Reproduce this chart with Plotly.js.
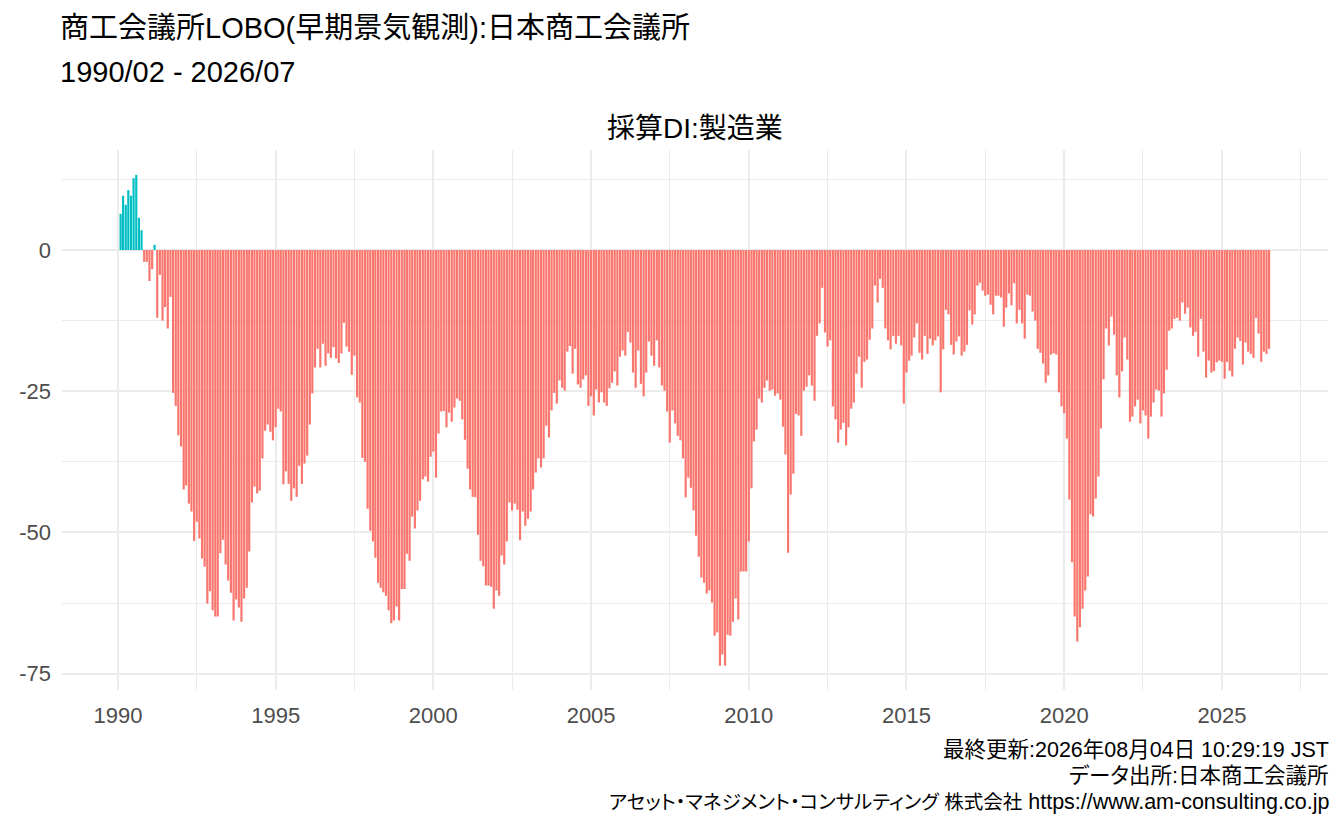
<!DOCTYPE html>
<html lang="ja">
<head>
<meta charset="utf-8">
<script src="https://cdn.plot.ly/plotly-3.0.1.min.js"></script>
<style>
  html, body { margin: 0; padding: 0; background: #ffffff; }
  #lobo-chart { width: 1344px; height: 830px; }
  text { font-feature-settings: "palt" 1; }
</style>
</head>
<body>
<div id="lobo-chart"></div>
<script>
// 商工会議所LOBO 採算DI(製造業) 月次 1990/02 - 2026/07

const firstMonth = "1990-02";

// 1990/02 - 1999/12
const di1990s = [
    6.4, 9.6, 8.0, 10.6, 9.6, 12.7, 13.3, 5.7, 3.5, -2.1, -2.1,
    -5.5, -3.4, 0.9, -12.0, -4.4, -12.5, -10.1, -13.9, -8.3, -25.3, -27.6, -32.8,
    -34.8, -42.4, -41.7, -44.9, -46.3, -51.5, -48.1, -51.1, -54.6, -56.1, -62.6, -60.4,
    -63.8, -64.9, -64.9, -53.7, -51.3, -55.7, -58.5, -60.7, -65.6, -61.9, -63.3, -65.8,
    -61.7, -59.8, -53.4, -44.7, -41.9, -43.1, -42.6, -36.9, -32.0, -30.9, -32.2, -33.7,
    -31.4, -28.1, -28.6, -41.5, -39.2, -41.4, -44.4, -42.2, -43.7, -38.2, -41.4, -37.8,
    -36.4, -30.9, -25.4, -20.8, -17.5, -20.8, -16.6, -20.5, -18.3, -19.1, -17.2, -19.2,
    -20.0, -18.3, -12.9, -17.1, -18.0, -22.1, -18.7, -26.1, -27.0, -36.8, -37.5, -45.8,
    -49.7, -51.6, -54.5, -58.9, -59.8, -60.6, -61.2, -63.8, -66.1, -65.6, -63.1, -65.6,
    -60.0, -60.0, -53.8, -55.0, -47.2, -49.3, -46.1, -44.4, -40.6, -40.1, -41.0, -36.6,
];

// 2000/01 - 2009/12
const di2000s = [
    -35.7, -40.3, -32.5, -28.6, -28.5, -31.4, -28.8, -30.4, -27.9, -26.3, -26.7, -30.0,
    -33.6, -38.7, -42.4, -43.7, -43.8, -50.4, -55.0, -56.0, -59.4, -59.4, -59.6, -63.5,
    -60.3, -61.2, -54.1, -55.7, -51.6, -44.7, -46.1, -44.9, -46.0, -51.4, -46.3, -48.8,
    -47.6, -46.3, -42.4, -39.4, -36.9, -38.5, -36.9, -31.1, -33.2, -28.4, -25.3, -27.2,
    -23.1, -24.4, -24.9, -18.0, -17.0, -21.9, -17.5, -23.8, -24.4, -22.9, -22.2, -27.6,
    -25.9, -29.3, -24.7, -27.0, -25.2, -27.0, -27.6, -24.5, -23.5, -21.5, -24.0, -18.9,
    -17.8, -18.7, -14.5, -16.4, -21.7, -24.4, -17.8, -23.7, -25.9, -21.7, -16.2, -18.7,
    -20.5, -16.0, -20.8, -24.0, -24.9, -28.6, -34.1, -28.4, -30.7, -32.9, -33.7, -36.9,
    -43.8, -40.3, -42.1, -46.1, -50.6, -54.3, -58.0, -58.9, -60.8, -60.3, -62.4, -68.3,
    -67.7, -73.6, -71.6, -73.6, -68.1, -68.3, -65.8, -61.7, -65.4, -56.9, -56.9, -56.9,
];

// 2010/01 - 2019/12
const di2010s = [
    -51.6, -42.2, -33.9, -31.8, -26.3, -27.0, -24.4, -23.1, -24.9, -24.7, -25.8, -25.4,
    -26.5, -31.3, -36.2, -53.6, -43.3, -39.6, -29.0, -29.3, -32.9, -24.9, -24.2, -22.2,
    -24.0, -26.7, -15.2, -13.0, -6.7, -14.6, -17.1, -16.0, -27.7, -30.0, -34.1, -31.8,
    -30.6, -34.6, -31.4, -28.1, -27.0, -21.9, -18.9, -24.4, -19.8, -19.4, -15.9, -13.9,
    -6.3, -9.3, -5.1, -6.7, -13.9, -16.0, -17.6, -15.2, -16.6, -15.2, -16.9, -27.2,
    -21.7, -19.6, -18.7, -15.5, -13.0, -18.2, -19.4, -15.2, -18.4, -15.7, -16.9, -16.0,
    -15.3, -25.2, -17.6, -10.6, -11.4, -16.8, -18.5, -16.2, -15.3, -18.7, -18.0, -16.8,
    -10.7, -13.2, -11.4, -6.3, -5.8, -7.2, -8.1, -7.9, -9.7, -11.4, -8.1, -8.1,
    -8.4, -13.6, -10.2, -7.7, -9.8, -5.9, -13.0, -10.6, -13.0, -15.7, -7.9, -8.1,
    -10.9, -12.5, -17.5, -18.2, -20.1, -23.5, -22.2, -18.5, -18.3, -18.5, -25.2, -27.7,
];

// 2020/01 - 2026/07
const di2020s = [
    -28.9, -33.4, -44.2, -55.3, -64.9, -69.3, -66.8, -63.5, -60.3, -57.8, -46.8, -47.2,
    -44.0, -40.1, -31.6, -22.9, -13.9, -16.9, -11.8, -15.0, -22.2, -26.1, -21.5, -15.5,
    -19.4, -30.4, -29.5, -27.7, -26.5, -30.7, -28.4, -29.3, -33.4, -29.5, -27.0, -24.7,
    -24.9, -29.5, -25.4, -21.2, -14.3, -13.9, -12.2, -12.0, -12.5, -9.3, -11.3, -10.2,
    -13.7, -15.2, -14.5, -18.9, -12.2, -18.0, -22.6, -19.6, -21.7, -21.4, -19.9, -19.6,
    -19.8, -22.8, -19.8, -21.4, -22.4, -17.5, -15.5, -16.1, -20.3, -16.4, -18.0, -18.4,
    -19.1, -12.0, -14.8, -19.8, -18.0, -18.4, -17.5,
];

const yTickVals = [0, -25, -50, -75];
const yTickText = ["0", "-25", "-50", "-75"];

const titleLines = ["商工会議所LOBO(早期景気観測):日本商工会議所", "1990/02 - 2026/07"];
const panelTitle = "採算DI:製造業";
const captionLines = [
    "最終更新:2026年08月04日 10:29:19 JST",
    "データ出所:日本商工会議所",
    "<span style=\"font-size:19.5px\">アセット・マネジメント・コンサルティング 株式会社</span> https://www.am-consulting.co.jp",
];

(function () {
    const values = di1990s.concat(di2000s, di2010s, di2020s);

    // 月初の日付を並べる
    const [y0, m0] = firstMonth.split("-").map(Number);
    const months = values.map((_, i) => {
        const total = (m0 - 1) + i;
        const yy = y0 + Math.floor(total / 12);
        const mm = (total % 12) + 1;
        return `${yy}-${String(mm).padStart(2, "0")}-01`;
    });

    const colors = values.map((v) => (v > 0 ? "#00BFC4" : "#F8766D"));

    const trace = {
        type: "bar",
        x: months,
        y: values,
        marker: { color: colors, line: { width: 0 } },
        hovertemplate: "%{x|%Y/%m}: %{y}<extra></extra>",
    };

    const fontFamily = "Liberation Sans, Arial, Noto Sans CJK JP, sans-serif";
    const gridColor = "#EBEBEB";

    const annotations = [
        { text: titleLines[0], x: 0, y: (690 - 28) / 540, size: 29, anchor: "left", dx: -4 },
        { text: titleLines[1], x: 0, y: (690 - 72) / 540, size: 29, anchor: "left", dx: -4 },
        { text: panelTitle, x: 0.5, y: (690 - 128) / 540, size: 28, anchor: "center", dx: 0 },
    ].concat(captionLines.map((t, i) => ({
        text: t, x: 1, y: (690 - 750 - 26 * i) / 540, size: 21.5, anchor: "right", dx: 3,
    }))).map((a) => ({
        text: a.text,
        xref: "paper",
        yref: "paper",
        x: a.x,
        y: a.y,
        xshift: a.dx,
        xanchor: a.anchor,
        yanchor: "middle",
        showarrow: false,
        font: { family: fontFamily, size: a.size, color: "#000000" },
    }));

    const layout = {
        width: 1344,
        height: 830,
        paper_bgcolor: "#ffffff",
        plot_bgcolor: "#ffffff",
        font: { family: fontFamily, color: "#4D4D4D" },
        margin: { l: 62, r: 16, t: 150, b: 140 },
        bargap: 0.1,
        showlegend: false,
        xaxis: {
            type: "date",
            range: ["1988-03-24", "2028-05-13"],
            tick0: "1990-01-01",
            dtick: "M60",
            tickformat: "%Y",
            ticks: "",
            showline: false,
            zeroline: false,
            showgrid: true,
            gridcolor: gridColor,
            gridwidth: 1.6,
            minor: { dtick: "M30", showgrid: true, gridcolor: gridColor, gridwidth: 0.8 },
            tickfont: { size: 22, color: "#4D4D4D" },
            ticklabelstandoff: 10,
        },
        yaxis: {
            range: [-77.9, 17.7],
            tickmode: "array",
            tickvals: yTickVals,
            ticktext: yTickText,
            ticks: "",
            showline: false,
            zeroline: false,
            showgrid: true,
            gridcolor: gridColor,
            gridwidth: 1.6,
            minor: { tick0: 0, dtick: 12.5, showgrid: true, gridcolor: gridColor, gridwidth: 0.8 },
            tickfont: { size: 22, color: "#4D4D4D" },
            ticklabelstandoff: 10,
        },
        annotations: annotations,
    };

    Plotly.newPlot("lobo-chart", [trace], layout, { displayModeBar: false, responsive: false });
})();
</script>
</body>
</html>
